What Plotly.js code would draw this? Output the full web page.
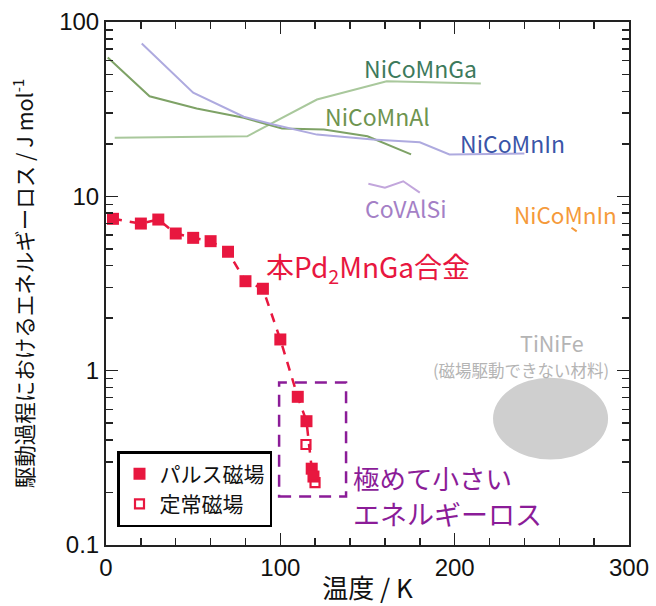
<!DOCTYPE html>
<html>
<head>
<meta charset="utf-8">
<script src="https://cdn.plot.ly/plotly-3.0.1.min.js"></script>
<style>html,body{margin:0;padding:0;background:#fff;}#chart{width:656px;height:606px;}</style>
</head>
<body>
<div id="chart"></div>
<script>
// Pd2MnGa, pulse field (filled squares)
const pulseT = [4, 20, 30, 40, 50, 60, 70, 80, 90, 100, 110, 115, 118, 119];
const pulseE = [7.43, 6.98, 7.36, 6.12, 5.78, 5.53, 4.81, 3.26, 2.95, 1.51, 0.708, 0.513, 0.274, 0.247];
// Pd2MnGa, static field (open squares)
const staticT = [114.7, 119.9];
const staticE = [0.377, 0.228];
// Reference materials
const ncmInT = [20.5, 50, 79, 96, 121, 153, 180, 197, 240];
const ncmInE = [75.3, 39.3, 28.6, 25.8, 22.6, 21.2, 20.4, 17.4, 17.6];
const ncmAlT = [1, 25, 52, 79, 101, 125, 150, 175];
const ncmAlE = [62.5, 37.5, 31.9, 28.2, 24.5, 24.2, 22.1, 17.4];
const ncmGaT = [5, 81, 121, 161, 197, 215];
const ncmGaE = [21.7, 22.1, 35.9, 45.7, 44.8, 44.4];
const cvasT = [150.5, 160, 170.5, 180];
const cvasE = [11.8, 11.2, 12.2, 10.5];
const ncmIn2T = [267, 270];
const ncmIn2E = [6.6, 6.3];
// TiNiFe region and low-loss box (data units)
const tinifeT = [222, 288];
const tinifeE = [0.309, 0.912];
const boxT = [99.3, 137.7];
const boxE = [0.19, 0.855];

const jp = '"Noto Sans CJK JP", "Noto Sans", sans-serif';
const red = '#e8173f';
const purple = '#8b1c98';

const traces = [
  {x: ncmGaT, y: ncmGaE, mode: 'lines', line: {color: '#a9c89c', width: 2}, showlegend: false, hoverinfo: 'skip'},
  {x: ncmAlT, y: ncmAlE, mode: 'lines', line: {color: '#7ea266', width: 2}, showlegend: false, hoverinfo: 'skip'},
  {x: ncmInT, y: ncmInE, mode: 'lines', line: {color: '#aeaadf', width: 2}, showlegend: false, hoverinfo: 'skip'},
  {x: cvasT, y: cvasE, mode: 'lines', line: {color: '#c2a6dc', width: 2}, showlegend: false, hoverinfo: 'skip'},
  {x: ncmIn2T, y: ncmIn2E, mode: 'lines', line: {color: '#f59a3a', width: 2}, showlegend: false, hoverinfo: 'skip'},
  {x: pulseT, y: pulseE, mode: 'lines', line: {color: red, width: 2.5, dash: '9px,8px'}, showlegend: false, hoverinfo: 'skip'},
  {x: pulseT, y: pulseE, mode: 'markers', name: 'パルス磁場',
   marker: {symbol: 'square', size: 12, color: red, line: {width: 0}}},
  {x: staticT, y: staticE, mode: 'markers', name: '定常磁場',
   marker: {symbol: 'square-open', size: 9, color: red, line: {width: 2.2, color: red}}}
];

const paper = (px, py) => ({x: (px - 106) / 523, y: (545 - py) / 523});
function ann(text, px, py, color, size, xanchor) {
  const p = paper(px, py);
  return {text: text, xref: 'paper', yref: 'paper', x: p.x, y: p.y, showarrow: false,
          xanchor: xanchor || 'center', yanchor: 'middle',
          font: {family: jp, size: size, color: color}};
}

const layout = {
  width: 656, height: 606,
  margin: {l: 106, r: 27, t: 22, b: 61},
  paper_bgcolor: '#fff', plot_bgcolor: '#fff',
  font: {family: jp, color: '#111'},
  xaxis: {
    range: [0, 300], dtick: 100, tick0: 0,
    ticks: 'inside', ticklen: 12, tickwidth: 1.5, tickcolor: '#222',
    minor: {dtick: 20, ticks: 'inside', ticklen: 7, tickwidth: 1.5, tickcolor: '#222', showgrid: false},
    showline: true, linewidth: 2, linecolor: '#222', mirror: 'ticks',
    showgrid: false, zeroline: false,
    tickfont: {family: '"Liberation Sans", Arial, sans-serif', size: 24, color: '#111'},
    title: {text: '温度 / K', font: {family: jp, size: 26, color: '#111'}, standoff: 0}
  },
  yaxis: {
    type: 'log', range: [-1, 2], dtick: 1,
    ticks: 'inside', ticklen: 12, tickwidth: 1.5, tickcolor: '#222',
    minor: {dtick: 'D1', ticks: 'inside', ticklen: 7, tickwidth: 1.5, tickcolor: '#222', showgrid: false},
    showline: true, linewidth: 2, linecolor: '#222', mirror: 'ticks',
    showgrid: false, zeroline: false,
    tickfont: {family: '"Liberation Sans", Arial, sans-serif', size: 24, color: '#111'},
    title: {text: '駆動過程におけるエネルギーロス / J mol<sup>-1</sup>', font: {family: jp, size: 21.5, color: '#111'}, standoff: 20}
  },
  showlegend: true,
  legend: {
    x: (117 - 106) / 523, y: (545 - 451) / 523, xanchor: 'left', yanchor: 'top',
    bgcolor: '#fff', bordercolor: '#000', borderwidth: 2.5,
    font: {family: jp, size: 21, color: '#111'},
    tracegroupgap: 0, itemwidth: 30
  },
  shapes: [
    {type: 'circle', xref: 'x', yref: 'y', x0: tinifeT[0], x1: tinifeT[1], y0: tinifeE[0], y1: tinifeE[1],
     fillcolor: '#cfcfcf', line: {width: 0}, layer: 'below'},
    {type: 'rect', xref: 'x', yref: 'y', x0: boxT[0], x1: boxT[1], y0: boxE[0], y1: boxE[1],
     line: {color: purple, width: 2.5, dash: '12px,8px'}, fillcolor: 'rgba(0,0,0,0)'}
  ],
  annotations: [
    ann('NiCoMnGa', 420, 68, '#3d7a5c', 23),
    ann('NiCoMnAl', 377, 116, '#6e9450', 23),
    ann('NiCoMnIn', 512, 143, '#3a55a8', 23),
    ann('CoVAlSi', 406, 208, '#a47fc6', 23),
    ann('NiCoMnIn', 565, 214, '#f59a3a', 22.5),
    ann('本Pd<sub>2</sub>MnGa合金', 368, 268, red, 28),
    ann('TiNiFe', 552, 342, '#b4b4b4', 21.5),
    ann('(磁場駆動できない材料)', 521, 370, '#b4b4b4', 16.5),
    ann('極めて小さい', 351, 477, purple, 26.5, 'left'),
    ann('エネルギーロス', 351, 513, purple, 27, 'left')
  ]
};

Plotly.newPlot('chart', traces, layout, {displayModeBar: false, staticPlot: true});
</script>
</body>
</html>
